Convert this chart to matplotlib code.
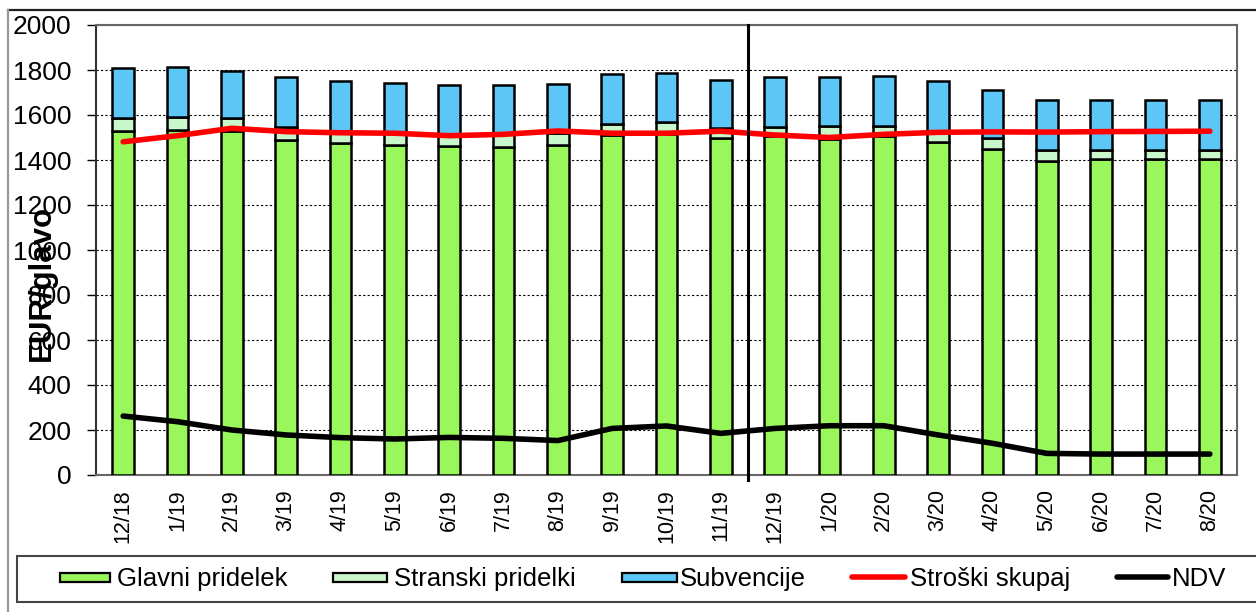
import matplotlib
matplotlib.use("Agg")
import matplotlib.pyplot as plt
from matplotlib.patches import Rectangle
from matplotlib.lines import Line2D
import numpy as np

plt.rcParams['font.family'] = ['Liberation Sans', 'DejaVu Sans']

categories = ["12/18", "1/19", "2/19", "3/19", "4/19", "5/19", "6/19", "7/19", "8/19",
              "9/19", "10/19", "11/19", "12/19", "1/20", "2/20", "3/20", "4/20",
              "5/20", "6/20", "7/20", "8/20"]
glavni = [1530, 1535, 1530, 1490, 1475, 1468, 1462, 1460, 1467, 1510, 1515, 1497,
          1505, 1495, 1505, 1480, 1448, 1397, 1405, 1405, 1405]
stranski = [57, 55, 55, 57, 56, 55, 55, 55, 55, 48, 55, 45,
            43, 55, 47, 45, 51, 47, 40, 40, 40]
subvencije = [222, 222, 212, 222, 220, 218, 216, 218, 218, 224, 217, 215,
              222, 217, 221, 225, 212, 223, 222, 222, 222]
stroski = [1481, 1508, 1541, 1526, 1521, 1519, 1508, 1514, 1529, 1519, 1519, 1528,
           1511, 1500, 1514, 1523, 1525, 1524, 1526, 1527, 1528]
ndv = [262, 237, 200, 178, 166, 160, 167, 163, 153, 207, 218, 185,
       207, 219, 219, 178, 141, 96, 93, 93, 93]
yticks = [0, 200, 400, 600, 800, 1000, 1200, 1400, 1600, 1800, 2000]
legend_labels = ["Glavni pridelek", "Stranski pridelki", "Subvencije", "Stroški skupaj", "NDV"]

c_glavni = "#99F75C"
c_stranski = "#C8F7CC"
c_sub = "#5CC6F7"
c_red = "#FF0000"

W, H = 1256, 612
fig = plt.figure(figsize=(W / 100, H / 100), dpi=100)


def fx(px):
    return px / W


def fy(py):
    return 1 - py / H


ax = fig.add_axes([fx(96), fy(475), fx(1237) - fx(96), fy(25) - fy(475)])

x = np.arange(len(categories))
g = np.array(glavni)
s = np.array(stranski)
v = np.array(subvencije)
w = 0.4
ax.bar(x, g, w, color=c_glavni, edgecolor="black", linewidth=1.8, zorder=3)
ax.bar(x, s, w, bottom=g, color=c_stranski, edgecolor="black", linewidth=1.8, zorder=3)
ax.bar(x, v, w, bottom=g + s, color=c_sub, edgecolor="black", linewidth=1.8, zorder=3)
ax.plot(x, stroski, color=c_red, linewidth=4, zorder=4, solid_capstyle="round")
ax.plot(x, ndv, color="black", linewidth=4, zorder=4, solid_capstyle="round")

ax.axvline(11.5, ymin=-0.012, ymax=1, color="black", linewidth=2.2, zorder=5, clip_on=False)

ax.set_xlim(-0.5, len(categories) - 0.5)
ax.set_ylim(0, 2000)
ax.set_yticks(yticks)
ax.set_yticklabels([str(t) for t in yticks], fontsize=19)
ax.set_xticks(x)
ax.set_xticklabels(categories, rotation=90, fontsize=15.5)
ax.tick_params(axis='x', length=0, pad=10)
ax.tick_params(axis='y', length=6.5, width=1, direction='out', pad=11)
ax.grid(axis='y', color="black", linestyle=(0, (2, 2)), linewidth=0.8, zorder=1)
for sp in ["top", "right", "bottom"]:
    ax.spines[sp].set_color("#666666")
    ax.spines[sp].set_linewidth(1.5)
ax.spines["left"].set_color("#333333")
ax.spines["left"].set_linewidth(1.5)

fig.text(fx(42), fy(283), "EUR/glavo", rotation=90, fontsize=22.5, fontweight="bold",
         ha="center", va="center")

# outer chart border
fig.add_artist(Line2D([fx(8), 1.0], [fy(10), fy(10)], transform=fig.transFigure,
                      color="#222222", linewidth=1.6))
fig.add_artist(Line2D([fx(8), fx(8)], [0, fy(10)], transform=fig.transFigure,
                      color="#999999", linewidth=1.6))

# legend box
fig.add_artist(Rectangle((fx(17), fy(602)), fx(1262) - fx(17), fy(556) - fy(602),
                         transform=fig.transFigure, facecolor="white", edgecolor="#444444",
                         linewidth=1.5, clip_on=False))

patch_x = [(60, 110), (333, 387), (622, 677)]
patch_cols = [c_glavni, c_stranski, c_sub]
text_x = [117, 394, 680, 910, 1172]
for (x0, x1), col in zip(patch_x, patch_cols):
    fig.add_artist(Rectangle((fx(x0), fy(582)), fx(x1) - fx(x0), fy(573) - fy(582),
                             transform=fig.transFigure, facecolor=col, edgecolor="black",
                             linewidth=1.6))
line_x = [(852, 905), (1117, 1168)]
line_cols = [c_red, "black"]
for (x0, x1), col in zip(line_x, line_cols):
    fig.add_artist(Line2D([fx(x0), fx(x1)], [fy(577), fy(577)], transform=fig.transFigure,
                          color=col, linewidth=4, solid_capstyle="round"))
for tx, lab in zip(text_x, legend_labels):
    fig.text(fx(tx), fy(586), lab, fontsize=18.5, ha="left", va="baseline")

fig.savefig("out.png", dpi=100)
